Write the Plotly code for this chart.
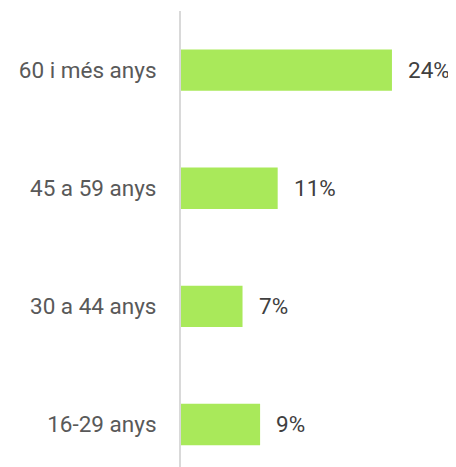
import plotly.graph_objects as go

categories = ["16-29 anys", "30 a 44 anys", "45 a 59 anys", "60 i més anys"]
values = [9, 7, 11, 24]
labels = [f"{v}%" for v in values]

fig = go.Figure()
fig.add_trace(go.Bar(
    y=categories, x=values, orientation="h",
    marker=dict(color="#a9e95a", line=dict(width=0)),
    width=0.35, hoverinfo="skip",
))
for c, v, t in zip(categories, values, labels):
    fig.add_annotation(x=v, y=c, text=t, showarrow=False, xanchor="left",
                       xshift=14, font=dict(size=22.5, color="#404040", family="Roboto"))

fig.update_layout(
    width=456, height=467,
    margin=dict(l=173, r=18, t=3, b=8),
    plot_bgcolor="white", paper_bgcolor="white",
    showlegend=False,
    font=dict(family="Roboto", size=22.5, color="#595959"),
    xaxis=dict(range=[0, 30.15], visible=False, fixedrange=True),
    yaxis=dict(range=[-0.36, 3.5], showline=True, linecolor="#d9d9d9", linewidth=2,
               showgrid=False, zeroline=False, ticks="", ticklabelstandoff=18,
               tickfont=dict(size=22.5, color="#595959", family="Roboto")),
)
fig.write_html("out.html")
